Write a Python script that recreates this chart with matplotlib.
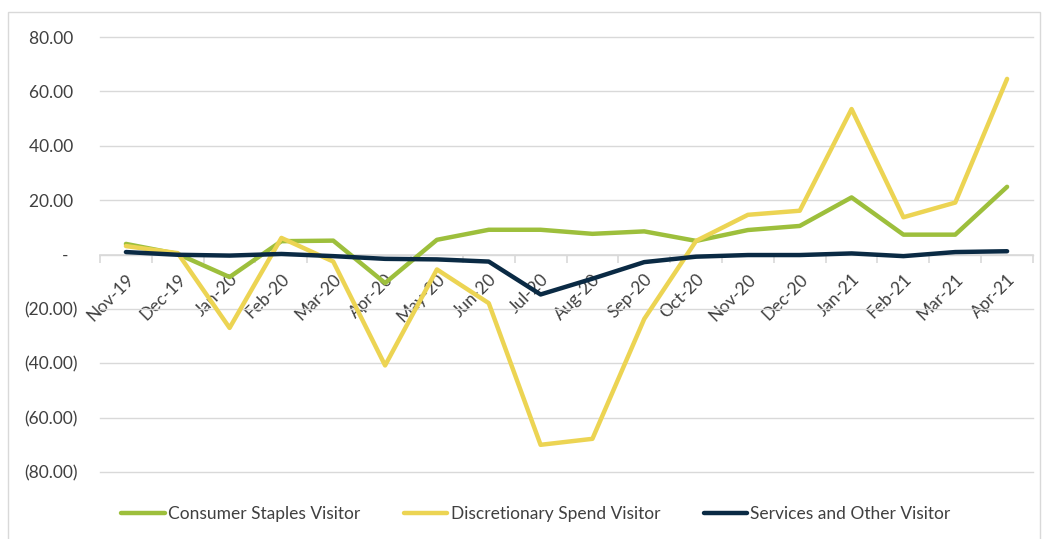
import numpy as np
import matplotlib
matplotlib.use("Agg")
import matplotlib.pyplot as plt
from matplotlib.ticker import FuncFormatter, MultipleLocator, FixedLocator
from matplotlib.patches import Rectangle

plt.rcParams['font.family'] = ['Lato', 'DejaVu Sans']

# data
months = ["Nov-19", "Dec-19", "Jan-20", "Feb-20", "Mar-20", "Apr-20", "May-20", "Jun-20", "Jul-20",
          "Aug-20", "Sep-20", "Oct-20", "Nov-20", "Dec-20", "Jan-21", "Feb-21", "Mar-21", "Apr-21"]
staples = [3.9, 0.2, -8.3, 4.9, 5.1, -10.5, 5.4, 9.1, 9.1,
           7.6, 8.5, 5.0, 9.0, 10.5, 21.0, 7.3, 7.3, 24.9]
discretionary = [3.1, 0.5, -27.0, 6.1, -2.6, -40.8, -5.5, -17.9, -70.0,
                 -67.8, -23.7, 5.0, 14.6, 16.1, 53.5, 13.7, 19.1, 64.6]
services = [0.9, -0.1, -0.4, 0.2, -0.6, -1.6, -1.8, -2.6, -14.7,
            -8.9, -2.8, -0.8, -0.2, -0.2, 0.4, -0.6, 0.9, 1.2]

green = "#9dbf3c"
yellow = "#ecd453"
navy = "#0a2a44"
grid_col = "#d9d9d9"
text_col = "#404040"

W, H = 1044, 539
fig = plt.figure(figsize=(W / 100, H / 100), dpi=100)
ax = fig.add_axes([100 / W, 1 - 472 / H, 933 / W, 435 / H])

x = np.arange(len(months))
ax.plot(x, staples, color=green, lw=3.2, label="Consumer Staples Visitor", solid_capstyle='round', zorder=3)
ax.plot(x, discretionary, color=yellow, lw=3.2, label="Discretionary Spend Visitor", solid_capstyle='round', zorder=3)
ax.plot(x, services, color=navy, lw=3.2, label="Services and Other Visitor", solid_capstyle='round', zorder=4)

ax.set_xlim(-0.5, len(months) - 0.5)
ax.set_ylim(-80, 80)
ax.yaxis.set_major_locator(MultipleLocator(20))
ax.grid(axis='y', color=grid_col, lw=1, clip_on=False)
for gl in ax.get_ygridlines():
    gl.set_clip_on(False)
ax.set_axisbelow(True)


def acct(v, pos):
    if abs(v) < 1e-9:
        return "-  "
    if v < 0:
        return "(%.2f)" % abs(v)
    return "%.2f " % v


ax.yaxis.set_major_formatter(FuncFormatter(acct))
ax.tick_params(axis='y', length=0, pad=16, labelsize=12.5, labelcolor=text_col)

for s in ['left', 'top', 'right']:
    ax.spines[s].set_visible(False)
ax.spines['bottom'].set_position(('data', 0))
ax.spines['bottom'].set_color(grid_col)
ax.spines['bottom'].set_linewidth(1.2)

ax.set_xticks(x)
ax.set_xticklabels(months)
ax.xaxis.set_minor_locator(FixedLocator(np.arange(-0.5, len(months), 1.0)))
ax.tick_params(axis='x', which='major', length=0, pad=12, labelsize=12.5, labelcolor=text_col)
ax.tick_params(axis='x', which='minor', length=6, width=1.2, color=grid_col, direction='out')
for lbl in ax.get_xticklabels():
    lbl.set_rotation(45)
    lbl.set_ha('right')
    lbl.set_va('top')
    lbl.set_rotation_mode('anchor')

leg = ax.legend(loc='center', ncol=3, frameon=False, fontsize=12.5, handlelength=2.5,
                handletextpad=0.2, columnspacing=2.5, labelcolor=text_col)
leg.set_bbox_to_anchor((536 / W, 1 - 514 / H), transform=fig.transFigure)

fig.patches.append(Rectangle((8 / W, -0.05), (W - 12) / W, 1 - 12 / H + 0.05, transform=fig.transFigure,
                             fill=False, edgecolor="#d9d9d9", lw=1))

fig.savefig("out.png", dpi=100)
